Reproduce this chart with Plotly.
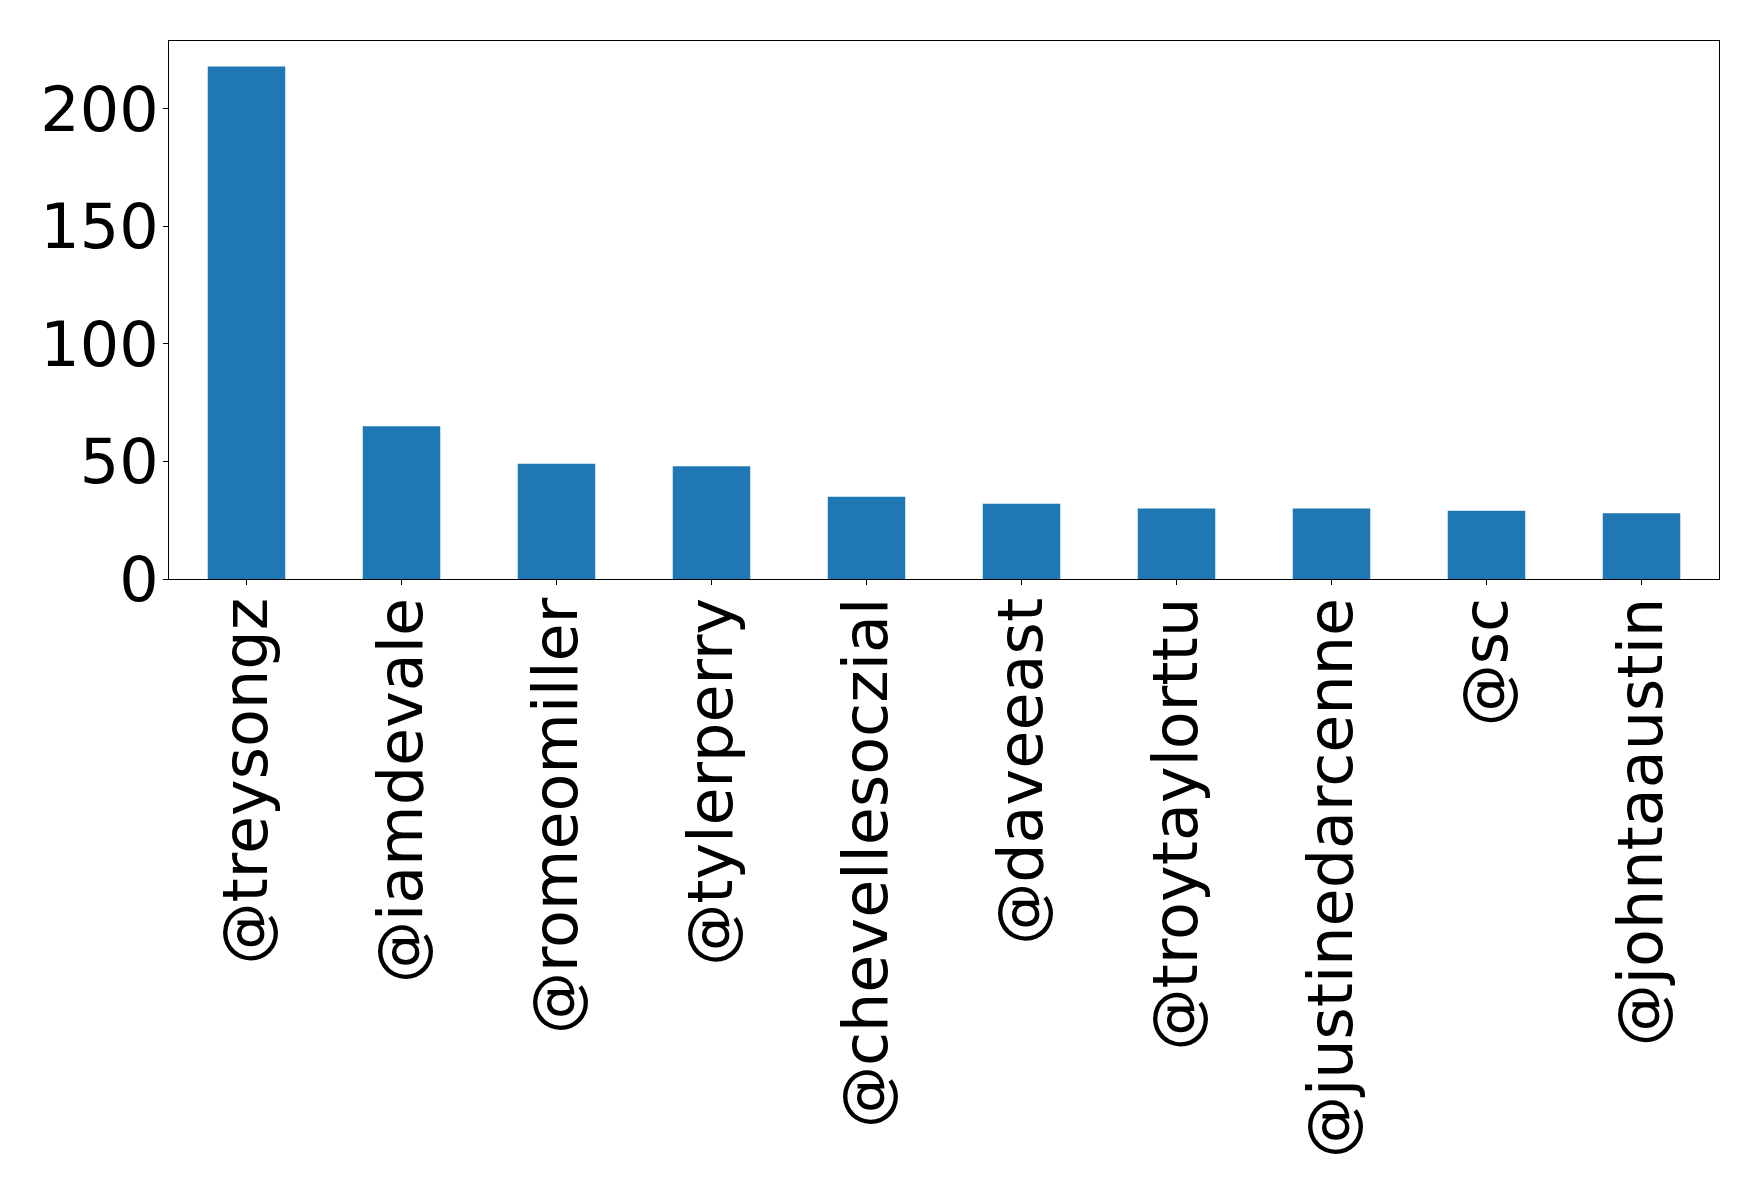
import plotly.graph_objects as go

categories = ["@treysongz", "@iamdevale", "@romeomiller", "@tylerperry", "@chevellesoczial",
              "@daveeast", "@troytaylorttu", "@justinedarcenne", "@sc", "@johntaaustin"]
values = [218, 65, 49, 48, 35, 32, 30, 30, 29, 28]

fig = go.Figure(go.Bar(x=list(range(len(categories))), y=values, width=0.5,
                       marker=dict(color="#1f77b4", line=dict(width=0))))

font = dict(family="DejaVu Sans", size=62, color="black")
fig.update_layout(
    width=1758, height=1193,
    margin=dict(l=161, r=47, t=33, b=622),
    plot_bgcolor="white", paper_bgcolor="white",
    showlegend=False,
    font=font,
)
fig.update_xaxes(range=[-0.5, len(categories) - 0.5], tickmode="array",
                 tickvals=list(range(len(categories))), ticktext=categories,
                 tickangle=-90, ticks="outside", ticklen=5, tickcolor="black",
                 ticklabelstandoff=-12,
                 showline=True, linecolor="black", linewidth=1, mirror=True,
                 showgrid=False, zeroline=False, tickfont=font)
fig.update_yaxes(range=[0, max(values) * 1.05], tickvals=[0, 50, 100, 150, 200],
                 ticks="outside", ticklen=5, tickcolor="black",
                 ticklabelstandoff=-8,
                 showline=True, linecolor="black", linewidth=1, mirror=True,
                 showgrid=False, zeroline=False, tickfont=font)

fig.write_html("out.html")
